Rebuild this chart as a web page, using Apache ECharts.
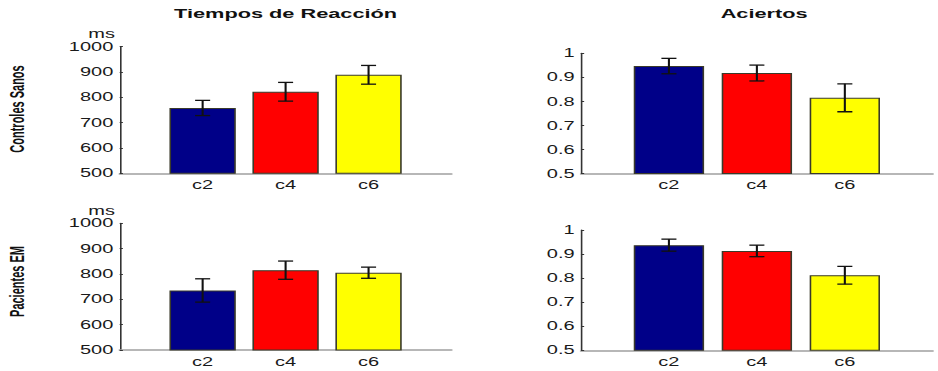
<!DOCTYPE html>
<html>
<head>
<meta charset="utf-8">
<script src="https://cdn.jsdelivr.net/npm/echarts@6/dist/echarts.min.js"></script>
<style>
  html, body { margin: 0; padding: 0; background: #fff; overflow: hidden; }
  #wrap { width: 938px; height: 371px; overflow: hidden; }
  /* the figure is laid out narrow and stretched horizontally */
  #chart { width: 586.25px; height: 371px; transform: scaleX(1.6); transform-origin: 0 0; }
</style>
</head>
<body>
<div id="wrap"><div id="chart"></div></div>
<script>
// Conditions on the x axis
const categories = ['c2', 'c4', 'c6'];
const barColors = ['#000088', '#ff0000', '#ffff00'];

// Reaction times (ms), healthy controls
const rtControls = [758, 822, 889];
const rtControlsErr = [30, 37, 37];
// Accuracy, healthy controls
const accControls = [0.947, 0.918, 0.815];
const accControlsErr = [0.032, 0.033, 0.058];
// Reaction times (ms), MS patients
const rtPatients = [735, 815, 805];
const rtPatientsErr = [46, 36, 22];
// Accuracy, MS patients
const accPatients = [0.937, 0.913, 0.812];
const accPatientsErr = [0.025, 0.024, 0.037];

const rtAxis = { min: 500, max: 1000, interval: 100 };
const accAxis = { min: 0.5, max: 1, interval: 0.1 };

const LABEL_FONT = 'Liberation Sans, Arial, Helvetica, sans-serif';

const grids = [
  { left: 74.8, top: 46.7, width: 207.4, height: 126.6 },
  { left: 363.1, top: 53.3, width: 229, height: 120.3 },
  { left: 74.8, top: 223.3, width: 207.4, height: 126.7 },
  { left: 363.1, top: 230, width: 229, height: 120.3 }
];

const panels = [
  { vals: rtControls, errs: rtControlsErr, axis: rtAxis, unit: 'ms' },
  { vals: accControls, errs: accControlsErr, axis: accAxis, unit: '' },
  { vals: rtPatients, errs: rtPatientsErr, axis: rtAxis, unit: 'ms' },
  { vals: accPatients, errs: accPatientsErr, axis: accAxis, unit: '' }
];

const xAxes = grids.map((g, i) => ({
  type: 'value', gridIndex: i, min: 0, max: 4, interval: 1,
  splitLine: { show: false },
  axisTick: { show: false },
  axisLine: { show: true, onZero: false, lineStyle: { color: '#a0a0a0', width: 1.5 } },
  axisLabel: {
    margin: 5, fontSize: 12.5, color: '#1a1a1a', fontFamily: LABEL_FONT,
    formatter: v => categories[v - 1] || ''
  }
}));

const yAxes = panels.map((p, i) => ({
  type: 'value', gridIndex: i,
  min: p.axis.min, max: p.axis.max, interval: p.axis.interval,
  name: p.unit, nameLocation: 'end', nameGap: 4,
  nameTextStyle: { fontSize: 12.5, color: '#1a1a1a', fontFamily: LABEL_FONT, align: 'right', padding: [0, 3, 0, 0] },
  splitLine: { show: false },
  axisLine: { show: true, onZero: false, lineStyle: { color: '#333', width: 1 } },
  axisTick: { show: true, inside: true, length: 2, lineStyle: { color: '#333' } },
  axisLabel: {
    margin: 4, fontSize: 12.5, color: '#1a1a1a', fontFamily: LABEL_FONT,
    formatter: v => String(+v.toFixed(2))
  }
}));

const series = [];
panels.forEach((p, i) => {
  series.push({
    type: 'bar', xAxisIndex: i, yAxisIndex: i, barWidth: '80%',
    data: p.vals.map((v, k) => ({
      value: [k + 1, v],
      itemStyle: { color: barColors[k], borderColor: '#3a3a2a', borderWidth: 1 }
    }))
  });
  series.push({
    type: 'custom', xAxisIndex: i, yAxisIndex: i, z: 5,
    data: p.vals.map((v, k) => [k + 1, v, p.errs[k]]),
    renderItem: (params, api) => {
      const x = api.value(0), v = api.value(1), e = api.value(2);
      const hi = api.coord([x, v + e]);
      const lo = api.coord([x, v - e]);
      const hw = 4.7;
      const st = { stroke: '#111', lineWidth: 1.3 };
      return {
        type: 'group',
        children: [
          { type: 'line', shape: { x1: hi[0], y1: hi[1], x2: lo[0], y2: lo[1] }, style: st },
          { type: 'line', shape: { x1: hi[0] - hw, y1: hi[1], x2: hi[0] + hw, y2: hi[1] }, style: st },
          { type: 'line', shape: { x1: lo[0] - hw, y1: lo[1], x2: lo[0] + hw, y2: lo[1] }, style: st }
        ]
      };
    }
  });
});

const titleFont = 'bold 13.6px ' + LABEL_FONT;
const rowFont = 'bold 11px ' + LABEL_FONT;

const chart = echarts.init(document.getElementById('chart'), null, { renderer: 'svg' });
chart.setOption({
  animation: false,
  backgroundColor: '#fff',
  grid: grids.map(g => Object.assign({ containLabel: false }, g)),
  xAxis: xAxes,
  yAxis: yAxes,
  series: series,
  graphic: [
    { type: 'text', x: 178.5, y: 14, style: { text: 'Tiempos de Reacción', font: titleFont, fill: '#111', align: 'center', verticalAlign: 'middle' } },
    { type: 'text', x: 477.6, y: 14, style: { text: 'Aciertos', font: titleFont, fill: '#111', align: 'center', verticalAlign: 'middle' } },
    { type: 'text', x: 10.4, y: 109, rotation: Math.PI / 2, scaleY: 1.2, style: { text: 'Controles Sanos', font: rowFont, fill: '#111', align: 'center', verticalAlign: 'middle' } },
    { type: 'text', x: 10.4, y: 281.5, rotation: Math.PI / 2, scaleY: 1.2, style: { text: 'Pacientes EM', font: rowFont, fill: '#111', align: 'center', verticalAlign: 'middle' } }
  ]
});
</script>
</body>
</html>
